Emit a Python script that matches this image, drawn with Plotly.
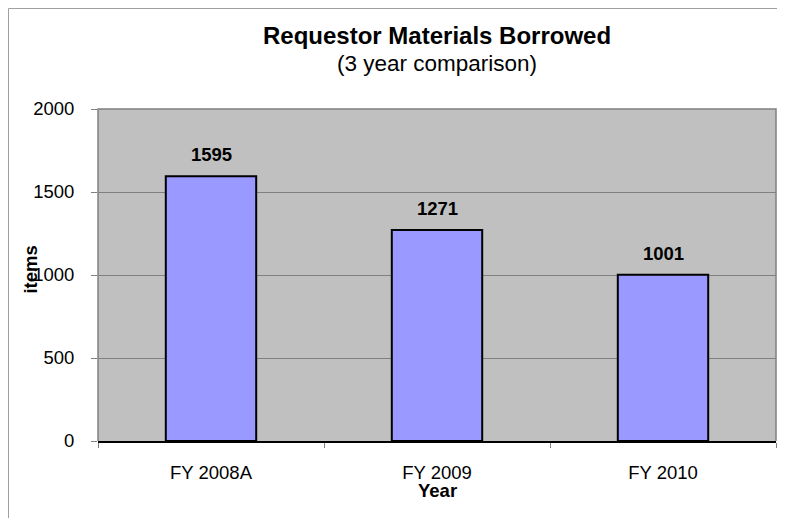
import plotly.graph_objects as go

years = ["FY 2008A", "FY 2009", "FY 2010"]
items = [1595, 1271, 1001]
y_ticks = [0, 500, 1000, 1500, 2000]

FONT = "Liberation Sans, Arial, sans-serif"

fig = go.Figure()

fig.add_trace(go.Bar(
    x=years,
    y=items,
    width=0.4,
    marker=dict(color="#9999FF", line=dict(color="black", width=2)),
    showlegend=False,
    hoverinfo="x+y",
))

# data labels above bars
for yr, v in zip(years, items):
    fig.add_annotation(
        x=yr, y=v, text="<b>%d</b>" % v, showarrow=False,
        yanchor="bottom", yshift=9,
        font=dict(family=FONT, size=18.5, color="black"),
    )

# titles
fig.add_annotation(x=0.5, y=1.22, xref="paper", yref="paper",
                   xanchor="center", yanchor="middle",
                   text="<b>Requestor Materials Borrowed</b>", showarrow=False,
                   font=dict(family=FONT, size=24, color="black"))
fig.add_annotation(x=0.5, y=1.137, xref="paper", yref="paper",
                   xanchor="center", yanchor="middle",
                   text="(3 year comparison)", showarrow=False,
                   font=dict(family=FONT, size=22.5, color="black"))
# axis titles
fig.add_annotation(x=0.5, y=-0.1476, xref="paper", yref="paper",
                   xanchor="center", yanchor="middle",
                   text="<b>Year</b>", showarrow=False,
                   font=dict(family=FONT, size=18.5, color="black"))
fig.add_annotation(x=-0.101, y=0.515, xref="paper", yref="paper",
                   xanchor="center", yanchor="middle",
                   text="<b>items</b>", showarrow=False, textangle=-90,
                   font=dict(family=FONT, size=18.5, color="black"))

# plot area border (top, left, right) in gray
fig.add_shape(type="path", xref="paper", yref="paper",
              path="M 0 0 L 0 1 L 1 1 L 1 0",
              line=dict(color="#808080", width=1.5))
# chart area border
fig.add_shape(type="rect", xref="paper", yref="paper",
              x0=-0.132, x1=1.2, y0=-0.5, y1=1.3027,
              line=dict(color="#A0A0A0", width=1))

fig.update_layout(
    width=777, height=510,
    margin=dict(l=90, r=9, t=101, b=77),
    plot_bgcolor="#C0C0C0",
    paper_bgcolor="white",
    font=dict(family=FONT, size=18.5, color="black"),
    bargap=0.6,
)
fig.update_xaxes(
    showline=True, linecolor="black", linewidth=1.5,
    ticks="outside", tickson="boundaries", ticklen=5, tickcolor="#808080",
    showgrid=False, tickfont=dict(size=18.5), ticklabelstandoff=14,
)
fig.update_yaxes(
    range=[0, 2000], tickvals=y_ticks,
    showgrid=True, gridcolor="#808080", gridwidth=1,
    zeroline=False,
    ticks="outside", ticklen=6, tickcolor="#808080",
    tickfont=dict(size=18.5), ticklabelstandoff=13,
)

fig.write_html("out.html")
